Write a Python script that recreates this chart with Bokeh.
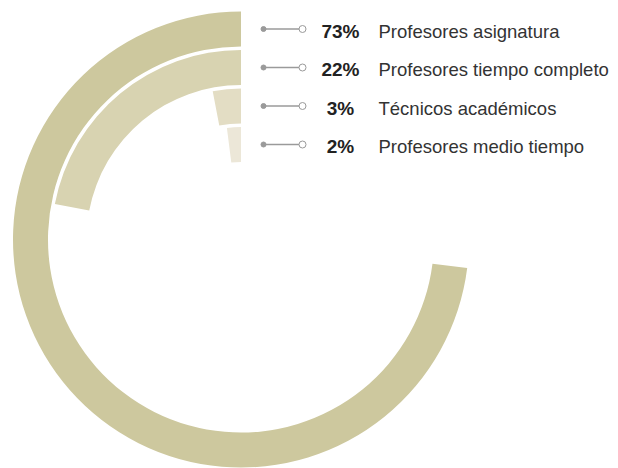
import math
from bokeh.plotting import figure
from bokeh.models import Range1d, ColumnDataSource
from bokeh.core.properties import value
from bokeh.embed import file_html
from bokeh.resources import INLINE

# Data
categories = ["Profesores asignatura", "Profesores tiempo completo",
              "Técnicos académicos", "Profesores medio tiempo"]
percents = [73, 22, 3, 2]
colors = ["#cdc89e", "#d8d3b1", "#e3ddc4", "#ece7d8"]

# Layout (page pixels; y flipped to negative)
CX, CY = 240.5, -239.0
R_OUT = 228.0
STEP = 38.5
WIDTH = 35.0

p = figure(width=618, height=468, output_backend="svg", toolbar_location=None,
           x_range=Range1d(0, 618), y_range=Range1d(-468, 0),
           min_border=0, outline_line_color=None)
p.axis.visible = False
p.grid.visible = False
p.background_fill_color = "white"
p.border_fill_color = "white"

outer = [R_OUT - i * STEP for i in range(len(percents))]
inner = [r - WIDTH for r in outer]
start = [math.pi / 2] * len(percents)
end = [math.pi / 2 + v / 100 * 2 * math.pi for v in percents]

src = ColumnDataSource(dict(x=[CX] * len(percents), y=[CY] * len(percents),
                            ir=inner, orr=outer, sa=start, ea=end, c=colors))
p.annular_wedge(x="x", y="y", inner_radius="ir", outer_radius="orr",
                start_angle="sa", end_angle="ea", direction="anticlock",
                fill_color="c", line_color=None, source=src)

# Legend rows aligned with ring centres
rows = [CY + (o + i) / 2 for o, i in zip(outer, inner)]
n = len(rows)
p.segment(x0=[263] * n, y0=rows, x1=[299] * n, y1=rows, line_color="#9a9a9a", line_width=1.3)
p.scatter(x=[263] * n, y=rows, size=5, marker="circle", fill_color="#9a9a9a", line_color="#9a9a9a")
p.scatter(x=[302] * n, y=rows, size=7, marker="circle", fill_color="white", line_color="#9a9a9a", line_width=1)

ty = [r - 2 for r in rows]
p.text(x=[340] * n, y=ty, text=[f"{v}%" for v in percents],
       text_font=value("Liberation Sans"), text_font_style="bold",
       text_font_size="19px", text_color="#222222",
       text_align="center", text_baseline="middle")
p.text(x=[378] * n, y=ty, text=categories,
       text_font=value("Liberation Sans"), text_font_size="18.5px",
       text_color="#333333", text_align="left", text_baseline="middle")

open("out.html", "w").write(file_html(p, INLINE))
